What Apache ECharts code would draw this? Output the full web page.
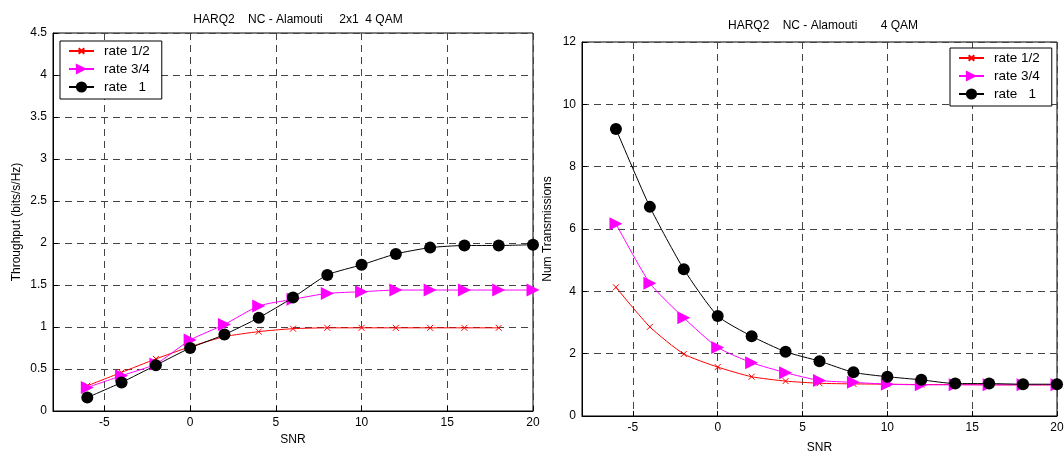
<!DOCTYPE html>
<html>
<head>
<meta charset="utf-8">
<script src="https://cdn.jsdelivr.net/npm/echarts@6/dist/echarts.min.js"></script>
<style>html,body{margin:0;padding:0;background:#fff}#c{width:1064px;height:452px}</style>
</head>
<body>
<div id="c"></div>
<script>
// ---- data ----
const snr = [-6, -4, -2, 0, 2, 4, 6, 8, 10, 12, 14, 16, 18, 20];
const xTicks = [-5, 0, 5, 10, 15, 20];
const seriesNames = ['rate 1/2', 'rate 3/4', 'rate   1'];
// Throughput (left)
const thrRate12 = [0.30, 0.46, 0.62, 0.765, 0.885, 0.945, 0.98, 0.99, 0.99, 0.99, 0.99, 0.99, 0.99];
const thrRate34 = [0.28, 0.42, 0.56, 0.845, 1.03, 1.25, 1.33, 1.40, 1.42, 1.44, 1.44, 1.44, 1.44, 1.44];
const thrRate1  = [0.16, 0.34, 0.545, 0.75, 0.91, 1.11, 1.35, 1.62, 1.74, 1.87, 1.945, 1.97, 1.97, 1.98];
// Num transmissions (right)
const ntxRate12 = [4.13, 2.86, 1.99, 1.57, 1.26, 1.12, 1.05, 1.03, 1.02, 1.01, 1.01, 1.0, 1.0, 1.0];
const ntxRate34 = [6.17, 4.26, 3.15, 2.20, 1.71, 1.39, 1.14, 1.08, 1.02, 1.0, 1.0, 1.0, 1.0, 1.0];
const ntxRate1  = [9.21, 6.71, 4.71, 3.21, 2.56, 2.06, 1.76, 1.40, 1.26, 1.16, 1.04, 1.04, 1.02, 1.02];
const titleLeft = 'HARQ2    NC - Alamouti     2x1  4 QAM';
const titleRight = 'HARQ2    NC - Alamouti       4 QAM';

const pairs = (ys) => ys.map((y, i) => [snr[i], y]);
const FONT = 'Liberation Sans, Arial, sans-serif';
const txt = {color: '#000', fontFamily: FONT, fontSize: 12};

// padded cross so the drawn glyph is half the symbol box
const crossPath = 'path://M-5,-5 M0,0 L10,10 M10,0 L0,10 M15,15';
const triPath = 'path://M0,0 L10,5 L0,10 Z';

function mkSeries(name, data, gi, kind) {
  const s = {
    name, type: 'line', xAxisIndex: gi, yAxisIndex: gi, data: pairs(data),
    animation: false, z: 3, smooth: 0.2
  };
  if (kind === 0) {
    Object.assign(s, {symbol: crossPath, symbolSize: 12,
      lineStyle: {color: '#ff0000', width: 1},
      itemStyle: {color: '#ff0000', borderColor: '#ff0000', borderWidth: 1}});
  } else if (kind === 1) {
    Object.assign(s, {symbol: triPath, symbolSize: 13,
      lineStyle: {color: '#ff00ff', width: 1},
      itemStyle: {color: '#ff00ff', borderColor: '#ff00ff', borderWidth: 0}});
  } else {
    Object.assign(s, {symbol: 'circle', symbolSize: 12, z: 4,
      lineStyle: {color: '#000', width: 1},
      itemStyle: {color: '#000', borderColor: '#000', borderWidth: 0}});
  }
  return s;
}

function xAx(gi, gap) {
  return {
    type: 'value', gridIndex: gi, min: -8, max: 20,
    name: 'SNR', nameLocation: 'middle', nameGap: gap, nameTextStyle: txt,
    axisLine: {show: true, onZero: false, lineStyle: {color: '#000', width: 1}},
    axisTick: {show: true, inside: true, length: 5, customValues: xTicks, lineStyle: {color: '#000'}},
    axisLabel: Object.assign({customValues: xTicks, margin: 6}, txt),
    splitLine: {show: true, lineStyle: {color: '#444', type: [7, 5], width: 1}}
  };
}
function yAx(gi, max, interval, name, gap) {
  return {
    type: 'value', gridIndex: gi, min: 0, max, interval,
    name, nameLocation: 'middle', nameGap: gap, nameTextStyle: txt,
    axisLine: {show: true, onZero: false, lineStyle: {color: '#000', width: 1}},
    axisTick: {show: true, inside: true, length: 5, lineStyle: {color: '#000'}},
    axisLabel: Object.assign({margin: 6}, txt),
    splitLine: {show: true, lineStyle: {color: '#444', type: [7, 5], width: 1}}
  };
}
function mkLegend(left, top) {
  return {
    left, top, orient: 'vertical', itemGap: 4, itemWidth: 25, itemHeight: 14,
    data: seriesNames.map(n => ({name: n})),
    textStyle: Object.assign({}, txt, {fontSize: 13.5, padding: [0, 0, 0, 5]}),
    backgroundColor: '#fff', borderColor: '#000', borderWidth: 1, padding: [3, 12, 5, 8],
    selectedMode: false
  };
}

const chart = echarts.init(document.getElementById('c'), null, {renderer: 'canvas'});
chart.setOption({
  animation: false,
  backgroundColor: '#fff',
  title: [
    {text: titleLeft, left: 293, top: 9, textAlign: 'center', textStyle: Object.assign({fontWeight: 'normal'}, txt)},
    {text: titleRight, left: 818, top: 15, textAlign: 'center', textStyle: Object.assign({fontWeight: 'normal'}, txt)}
  ],
  grid: [
    {left: 53, top: 33, width: 480, height: 378, show: true, borderColor: '#000', borderWidth: 1,
     backgroundColor: 'transparent', containLabel: false, outerBoundsMode: 'none'},
    {left: 582, top: 42, width: 475, height: 374, show: true, borderColor: '#000', borderWidth: 1,
     backgroundColor: 'transparent', containLabel: false, outerBoundsMode: 'none'}
  ],
  legend: [mkLegend(60, 41), mkLegend(950, 48)],
  xAxis: [xAx(0, 18), xAx(1, 26)],
  yAxis: [yAx(0, 4.5, 0.5, 'Throughput (bits/s/Hz)', 30), yAx(1, 12, 2, 'Num Transmissions', 28)],
  series: [
    mkSeries(seriesNames[0], thrRate12, 0, 0),
    mkSeries(seriesNames[1], thrRate34, 0, 1),
    mkSeries(seriesNames[2], thrRate1, 0, 2),
    mkSeries(seriesNames[0], ntxRate12, 1, 0),
    mkSeries(seriesNames[1], ntxRate34, 1, 1),
    mkSeries(seriesNames[2], ntxRate1, 1, 2)
  ]
});
</script>
</body>
</html>
